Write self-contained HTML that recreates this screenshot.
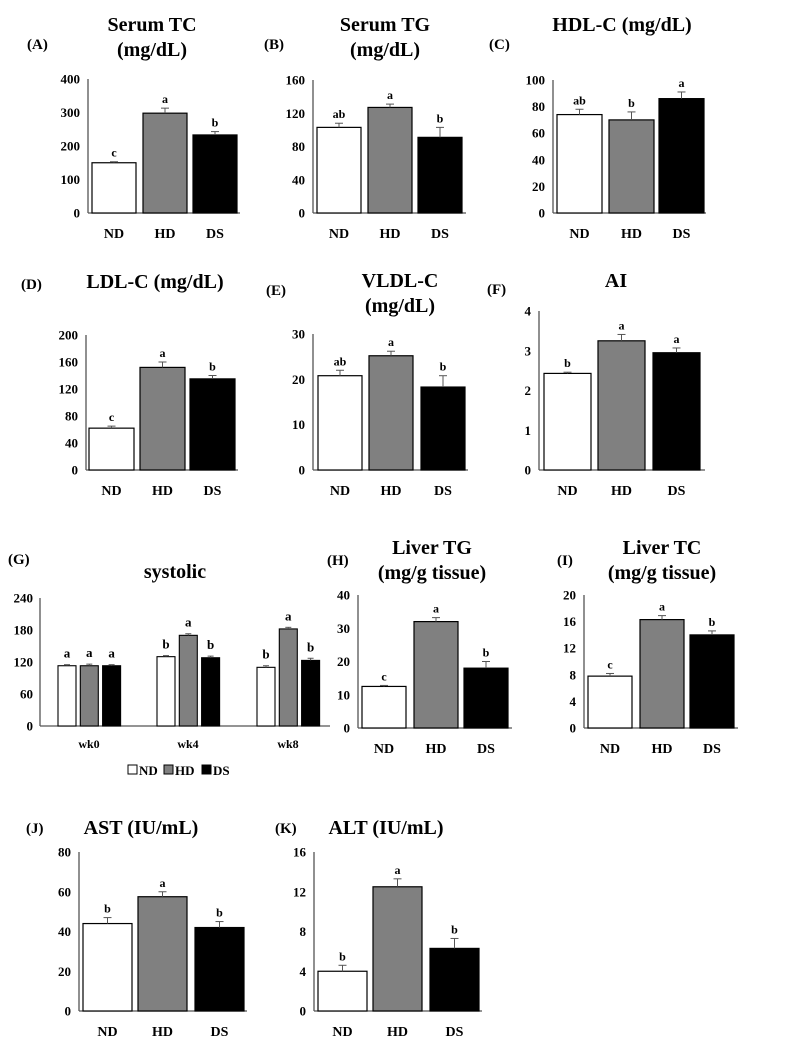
<!DOCTYPE html>
<html><head><meta charset="utf-8">
<style>
html,body{margin:0;padding:0;background:#fff;}
svg{display:block;font-family:"Liberation Serif",serif;font-weight:bold;}
</style></head>
<body>
<svg id="fig" width="787" height="1043" viewBox="0 0 787 1043" xmlns="http://www.w3.org/2000/svg"></svg>
<script>
const groups = ["ND","HD","DS"];
const fills = ["#ffffff","#808080","#000000"];
// Panel data
const valsA = [150,298,233]; const errA = [3,15,10]; const letA = ["c","a","b"]; const ticksA = [0,100,200,300,400];
const valsB = [103,127,91]; const errB = [5,4,12]; const letB = ["ab","a","b"]; const ticksB = [0,40,80,120,160];
const valsC = [74,70,86]; const errC = [4,6,5]; const letC = ["ab","b","a"]; const ticksC = [0,20,40,60,80,100];
const valsD = [62,152,135]; const errD = [3,8,5]; const letD = ["c","a","b"]; const ticksD = [0,40,80,120,160,200];
const valsE = [20.8,25.2,18.3]; const errE = [1.2,1,2.5]; const letE = ["ab","a","b"]; const ticksE = [0,10,20,30];
const valsF = [2.43,3.25,2.95]; const errF = [0.03,0.16,0.12]; const letF = ["b","a","a"]; const ticksF = [0,1,2,3,4];
const valsH = [12.5,32,18]; const errH = [0.3,1.2,2]; const letH = ["c","a","b"]; const ticksH = [0,10,20,30,40];
const valsI = [7.8,16.3,14]; const errI = [0.4,0.6,0.6]; const letI = ["c","a","b"]; const ticksI = [0,4,8,12,16,20];
const valsJ = [44,57.5,42]; const errJ = [3,2.5,3]; const letJ = ["b","a","b"]; const ticksJ = [0,20,40,60,80];
const valsK = [4,12.5,6.3]; const errK = [0.6,0.8,1]; const letK = ["b","a","b"]; const ticksK = [0,4,8,12,16];
// Panel G (systolic)
const weeks = ["wk0","wk4","wk8"];
const sysND = [113,130,110]; const sysHD = [113,170,182]; const sysDS = [113,128,123];
const errND = [2,2,3]; const errHD = [3,3,3]; const errDS = [2,3,4];
const letND = ["a","b","b"]; const letHD = ["a","a","a"]; const letDS = ["a","b","b"];
const ticksG = [0,60,120,180,240];

const svg = document.getElementById('fig');
const NS = "http://www.w3.org/2000/svg";
function mk(tag, attrs, parent){
  const e = document.createElementNS(NS, tag);
  for (const k in attrs) e.setAttribute(k, attrs[k]);
  (parent||svg).appendChild(e); return e;
}
function txt(x,y,s,size,anchor,parent){
  const t = mk('text',{x:x,y:y,'font-size':size,'text-anchor':anchor||'middle',fill:'#000'},parent);
  t.textContent = s; return t;
}

function panel(id, p){
  const g = mk('g',{});
  
  
  const ymax = p.ticks[p.ticks.length-1];
  const yS = v => p.y0 - (v/ymax)*(p.y0 - p.yTop);
  const ax = mk('line',{x1:p.ax,y1:p.yTop,x2:p.ax,y2:p.y0,stroke:'#555','stroke-width':1.3},g);
  
  
  const bx = mk('line',{x1:p.ax,y1:p.y0,x2:p.axEnd,y2:p.y0,stroke:'#555','stroke-width':1.3},g);
  
  
  p.ticks.forEach(t=>{
    const tl = txt(p.ax-8, yS(t)+4.5, String(t), 13, 'end', g);
    
    
  });
  p.vals.forEach((v,i)=>{
    const x = p.bx[i], w = p.bw;
    const r = mk('rect',{x:x,y:yS(v),width:w,height:p.y0-yS(v),fill:fills[i],stroke:'#000','stroke-width':1.2},g);
    
    
    const cx = x + w/2, ye = yS(v + p.err[i]);
    mk('line',{x1:cx,y1:yS(v),x2:cx,y2:ye,stroke:'#555','stroke-width':1},g);
    mk('line',{x1:cx-4,y1:ye,x2:cx+4,y2:ye,stroke:'#555','stroke-width':1},g);
    const lt = txt(cx, ye-5, p.lets[i], 12, 'middle', g);
    
    
    const cl = txt(cx, p.catY, groups[i], 14, 'middle', g);
    
    
  });
  const lab = txt(p.lab[0], p.lab[1], '('+id+')', 15, 'start', g);
  
  
  p.title.forEach((s,k)=>{
    const tt = txt(p.tx, p.ty + k*25, s, 20, 'middle', g);
    
    
  });
}

panel('A',{vals:valsA,err:errA,lets:letA,ticks:ticksA,ax:88,axEnd:240,yTop:79,y0:213,bx:[92,143,193],bw:44,catY:238,lab:[27,49],title:['Serum TC','(mg/dL)'],tx:152,ty:31});
panel('B',{vals:valsB,err:errB,lets:letB,ticks:ticksB,ax:313,axEnd:466,yTop:80,y0:213,bx:[317,368,418],bw:44,catY:238,lab:[264,49],title:['Serum TG','(mg/dL)'],tx:385,ty:31});
panel('C',{vals:valsC,err:errC,lets:letC,ticks:ticksC,ax:553,axEnd:706,yTop:80,y0:213,bx:[557,609,659],bw:45,catY:238,lab:[489,49],title:['HDL-C (mg/dL)'],tx:622,ty:31});
panel('D',{vals:valsD,err:errD,lets:letD,ticks:ticksD,ax:86,axEnd:238,yTop:335,y0:470,bx:[89,140,190],bw:45,catY:495,lab:[21,289],title:['LDL-C (mg/dL)'],tx:155,ty:288});
panel('E',{vals:valsE,err:errE,lets:letE,ticks:ticksE,ax:313,axEnd:468,yTop:334,y0:470,bx:[318,369,421],bw:44,catY:495,lab:[266,295],title:['VLDL-C','(mg/dL)'],tx:400,ty:287});
panel('F',{vals:valsF,err:errF,lets:letF,ticks:ticksF,ax:539,axEnd:705,yTop:311,y0:470,bx:[544,598,653],bw:47,catY:495,lab:[487,294],title:['AI'],tx:616,ty:287});
panel('H',{vals:valsH,err:errH,lets:letH,ticks:ticksH,ax:358,axEnd:512,yTop:595,y0:728,bx:[362,414,464],bw:44,catY:753,lab:[327,565],title:['Liver TG','(mg/g tissue)'],tx:432,ty:554});
panel('I',{vals:valsI,err:errI,lets:letI,ticks:ticksI,ax:584,axEnd:738,yTop:595,y0:728,bx:[588,640,690],bw:44,catY:753,lab:[557,565],title:['Liver TC','(mg/g tissue)'],tx:662,ty:554});
panel('J',{vals:valsJ,err:errJ,lets:letJ,ticks:ticksJ,ax:79,axEnd:247,yTop:852,y0:1011,bx:[83,138,195],bw:49,catY:1036,lab:[26,833],title:['AST (IU/mL)'],tx:141,ty:834});
panel('K',{vals:valsK,err:errK,lets:letK,ticks:ticksK,ax:314,axEnd:482,yTop:852,y0:1011,bx:[318,373,430],bw:49,catY:1036,lab:[275,833],title:['ALT (IU/mL)'],tx:386,ty:834});

// Panel G grouped
(function(){
  const g = mk('g',{});
  
  
  const ax=40, axEnd=330, yTop=598, y0=726, bw=18;
  const ymax = ticksG[ticksG.length-1];
  const yS = v => y0 - (v/ymax)*(y0-yTop);
  const a1 = mk('line',{x1:ax,y1:yTop,x2:ax,y2:y0,stroke:'#555','stroke-width':1.3},g);
  
  
  const a2 = mk('line',{x1:ax,y1:y0,x2:axEnd,y2:y0,stroke:'#555','stroke-width':1.3},g);
  
  
  ticksG.forEach(t=>{
    const tl = txt(ax-7, yS(t)+4.5, String(t), 13, 'end', g);
    
    
  });
  const series=[sysND,sysHD,sysDS], errs=[errND,errHD,errDS], lets=[letND,letHD,letDS];
  const groupStart=[58,157,257];
  weeks.forEach((wk,w)=>{
    series.forEach((s,i)=>{
      const x = groupStart[w] + i*22.3, v = s[w];
      const r = mk('rect',{x:x,y:yS(v),width:bw,height:y0-yS(v),fill:fills[i],stroke:'#000','stroke-width':1.1},g);
      
      
      const cx=x+bw/2, ye=yS(v+errs[i][w]);
      mk('line',{x1:cx,y1:yS(v),x2:cx,y2:ye,stroke:'#555','stroke-width':1},g);
      mk('line',{x1:cx-3,y1:ye,x2:cx+3,y2:ye,stroke:'#555','stroke-width':1},g);
      const lt = txt(cx, ye-7, lets[i][w], 13, 'middle', g);
      
      
    });
    const cl = txt(groupStart[w]+31, 748, wk, 12, 'middle', g);
    
    
  });
  const lab = txt(8, 564, '(G)', 15, 'start', g);
  
  
  const tt = txt(175, 578, 'systolic', 20, 'middle', g);
  
  
  const lx=[128,164,202];
  groups.forEach((n,i)=>{
    const le = mk('g',{},g);
    
    
    mk('rect',{x:lx[i],y:765,width:9,height:9,fill:fills[i],stroke:'#000','stroke-width':1},le);
    txt(lx[i]+11, 775, n, 13, 'start', le);
  });
})();
</script>
</body></html>
